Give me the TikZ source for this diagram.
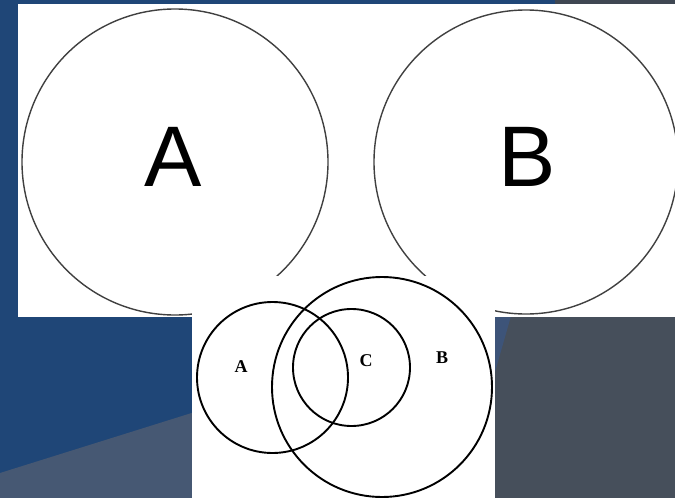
\documentclass[tikz,border=0pt]{standalone}
\usepackage{fontspec}
\setmainfont{Liberation Serif}
\setsansfont{Liberation Sans}
\usepackage{tikz}
\usetikzlibrary{positioning}
\definecolor{slideblue}{HTML}{1F4677}
\definecolor{swooshblue}{HTML}{465873}
\definecolor{slidegrey}{HTML}{464F5B}
\definecolor{edgeblue}{HTML}{3D5479}

\begin{document}
\begin{tikzpicture}[
  x=1pt,y=-1pt,
  bigset/.style={circle,draw=black!75,line width=1.4pt,minimum size=#1,inner sep=0pt},
  smallset/.style={circle,draw,line width=1.9pt,minimum size=#1,inner sep=0pt},
  biglabel/.style={font=\sffamily\fontsize{86}{86}\selectfont,inner sep=0pt},
  setlabel/.style={font=\bfseries\fontsize{18}{18}\selectfont,inner sep=0pt}
]
\useasboundingbox (0,0) rectangle (675,498);
\fill[slideblue] (0,0) rectangle (675,498);
\fill[swooshblue] (0,473)--(495,318)--(495,498)--(0,498)--cycle;
\fill[slidegrey] (495,316) rectangle (675,498);
\fill[edgeblue] (495,316)--(511,316)--(495,372)--cycle;
\fill[slidegrey!90!black] (555,0) rectangle (675,4);

\fill[white] (18,4) rectangle (675,317);
\node[bigset=306pt] (bigA) at (175,162) {};
\node[bigset=304pt] (bigB) at (526,162) {};
\node[biglabel] (labA) at (173,157) {A};
\node[biglabel] (labB) at (527,157) {B};

\fill[white] (192,276) rectangle (495,498);
\node[smallset=151pt] (setA) at (272.5,377.5) {};
\node[smallset=220pt] (setB) at (382,387) {};
\node[smallset=117pt] (setC) at (351.5,367.5) {};
\node[setlabel] (nameA) at (241,367) {A};
\node[setlabel] (nameC) at (366,361) {C};
\node[setlabel] (nameB) at (442,358) {B};
\end{tikzpicture}
\end{document}
